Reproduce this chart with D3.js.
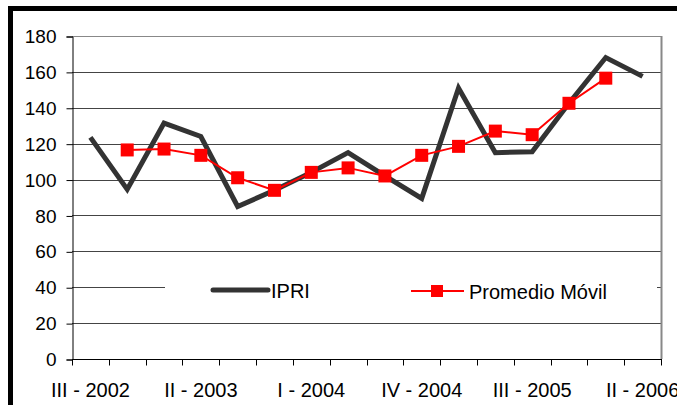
<!DOCTYPE html>
<html>
<head>
<meta charset="utf-8">
<script src="https://cdn.jsdelivr.net/npm/d3@7.9.0/dist/d3.min.js"></script>
<style>
  body { margin: 0; background: #fff; }
  svg { display: block; font-family: "Liberation Sans", Arial, sans-serif; }
</style>
</head>
<body>
<svg id="chart" width="677" height="405"></svg>
<script>
// quarters III-2002 .. II-2006
const quarters = ['III - 2002', 'IV - 2002', 'I - 2003', 'II - 2003', 'III - 2003', 'IV - 2003',
  'I - 2004', 'II - 2004', 'III - 2004', 'IV - 2004', 'I - 2005', 'II - 2005',
  'III - 2005', 'IV - 2005', 'I - 2006', 'II - 2006'];
const ipri = [123.5, 94.5, 131.5, 124, 85, 94, 104, 115, 102, 89.5, 151, 115, 115.5, 142.5, 168, 157.5];
// moving average has no value at the first and last quarter
const promedio = [null, 116.5, 117, 113.5, 101, 94, 104, 106.5, 102, 113.5, 118.5, 127, 125, 142.5, 156.5, null];
const yTicks = [0, 20, 40, 60, 80, 100, 120, 140, 160, 180];
const xLabelEvery = 3;

const svg = d3.select('#chart');
const m = { left: 72, right: 661, top: 36, bottom: 359 };

const x = d3.scaleBand().domain(quarters).range([m.left, m.right]);
const y = d3.scaleLinear().domain([0, 180]).range([m.bottom, m.top]);
const cx = (d) => x(d) + x.bandwidth() / 2;

// outer frame (only left & top edges fall in the picture)
svg.append('rect')
  .attr('x', 10.5).attr('y', 8.5)
  .attr('width', 800).attr('height', 600)
  .attr('fill', 'none').attr('stroke', '#000').attr('stroke-width', 5);

// gridlines
svg.append('g').selectAll('line')
  .data(yTicks.filter((t) => t > 0))
  .join('line')
  .attr('x1', m.left).attr('x2', m.right)
  .attr('y1', (d) => Math.round(y(d)) + 0.5).attr('y2', (d) => Math.round(y(d)) + 0.5)
  .attr('stroke', (d) => d === 180 ? '#888' : '#444')
  .attr('stroke-width', 1);

// right border of plot
svg.append('line')
  .attr('x1', m.right + 0.5).attr('x2', m.right + 0.5)
  .attr('y1', m.top).attr('y2', m.bottom)
  .attr('stroke', '#888').attr('stroke-width', 2);

// y axis
const yAxis = d3.axisLeft(y).tickValues(yTicks).tickSize(6).tickPadding(10);
const gy = svg.append('g').attr('transform', `translate(${m.left + 0.5},0.5)`).call(yAxis);
gy.select('.domain').attr('stroke', '#000');
gy.selectAll('.tick line').attr('stroke', '#000');
gy.selectAll('.tick text').attr('font-size', 19).attr('fill', '#000')
  .attr('font-family', '"Liberation Sans", Arial, sans-serif');

// x axis: ticks at band edges, labels every third quarter
const gx = svg.append('g').attr('transform', `translate(0,${m.bottom + 0.5})`);
gx.append('line').attr('x1', m.left).attr('x2', m.right + 1).attr('stroke', '#000');
const edges = quarters.map((q) => x(q)).concat([m.right]);
gx.selectAll('.xt').data(edges).join('line')
  .attr('class', 'xt')
  .attr('x1', (d) => Math.round(d) + 0.5).attr('x2', (d) => Math.round(d) + 0.5)
  .attr('y1', 0).attr('y2', 6)
  .attr('stroke', '#000');
gx.selectAll('text').data(quarters.filter((q, i) => i % xLabelEvery === 0)).join('text')
  .attr('x', (d) => cx(d)).attr('y', 37)
  .attr('text-anchor', 'middle')
  .attr('font-size', 20).attr('fill', '#000')
  .text((d) => d);

// legend box (white, hides gridline at 40)
const legend = svg.append('g');
legend.append('rect')
  .attr('x', 165).attr('y', 264).attr('width', 492).attr('height', 52)
  .attr('fill', '#fff');
legend.append('line').attr('x1', 213).attr('x2', 268).attr('y1', 290).attr('y2', 290)
  .attr('stroke', '#333').attr('stroke-width', 5).attr('stroke-linecap', 'round');
legend.append('text').attr('x', 271).attr('y', 298).attr('font-size', 20).text('IPRI');
legend.append('line').attr('x1', 411).attr('x2', 464).attr('y1', 291).attr('y2', 291)
  .attr('stroke', '#f00').attr('stroke-width', 2);
legend.append('rect').attr('x', 431).attr('y', 285).attr('width', 12).attr('height', 12)
  .attr('fill', '#f00');
legend.append('text').attr('x', 469).attr('y', 299).attr('font-size', 20).text('Promedio Móvil');

// IPRI line
const line = d3.line().x((d, i) => cx(quarters[i])).y((d) => y(d));
svg.append('path')
  .datum(ipri)
  .attr('d', line)
  .attr('fill', 'none').attr('stroke', '#333').attr('stroke-width', 5)
  .attr('stroke-linejoin', 'miter');

// moving average
const maLine = d3.line()
  .defined((d) => d !== null)
  .x((d, i) => cx(quarters[i])).y((d) => y(d));
svg.append('path')
  .datum(promedio)
  .attr('d', maLine)
  .attr('fill', 'none').attr('stroke', '#f00').attr('stroke-width', 2);
svg.append('g').selectAll('rect')
  .data(promedio.map((v, i) => ({ v, q: quarters[i] })).filter((d) => d.v !== null))
  .join('rect')
  .attr('x', (d) => cx(d.q) - 6.5).attr('y', (d) => y(d.v) - 6.5)
  .attr('width', 13).attr('height', 13)
  .attr('fill', '#f00');
</script>
</body>
</html>
